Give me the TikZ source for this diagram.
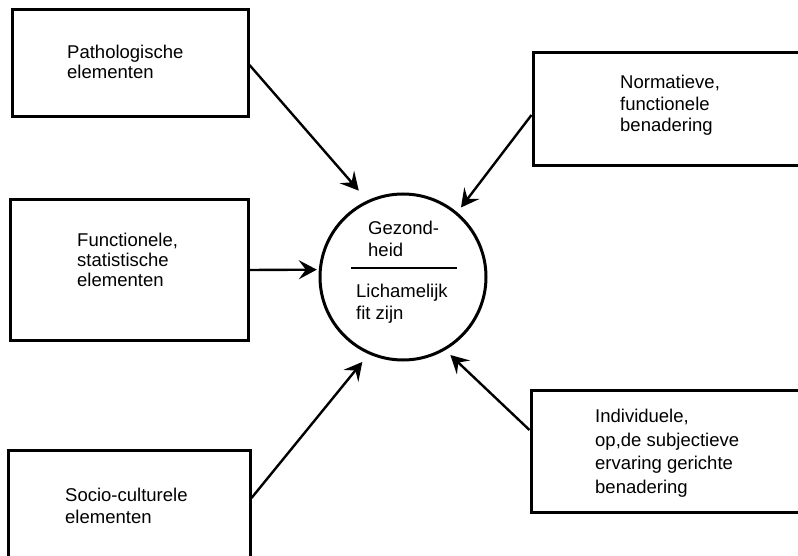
\documentclass[tikz,border=0pt]{standalone}
\usepackage{fontspec}
\setmainfont{Liberation Sans}
\usetikzlibrary{arrows.meta,calc}
\begin{document}
\begin{tikzpicture}[x=1pt,y=-1pt,
  box/.style={draw, line width=3pt, rectangle, inner sep=0pt},
  lbl/.style={anchor=north west, inner sep=0pt, align=left},
  conn/.style={line width=2.4pt, -{Stealth[length=18pt,width=19pt,inset=7pt]}}]
\path[use as bounding box, clip] (0,0) rectangle (798,556);
\fill[white] (0,0) rectangle (798,556);
% boxes
\node[box, minimum width=236, minimum height=107] (b1) at (130,63.5) {};
\node[box, minimum width=279, minimum height=113] (b2) at (672.5,109.5) {};
\node[box, minimum width=238, minimum height=140] (b3) at (129,270) {};
\node[box, minimum width=242, minimum height=120] (b4) at (129,510) {};
\node[box, minimum width=281, minimum height=122] (b5) at (671.5,451) {};
% circle
\node[circle, draw, line width=3pt, minimum size=166, inner sep=0pt] (c) at (403,277) {};
\coordinate (hl) at (351,268);
\coordinate (hr) at (457,268);
\draw[line width=2.6pt] (hl) -- (hr);
% labels
\node[lbl, font=\fontsize{18.5}{20}\selectfont] (t1) at (67,45) {Pathologische\\elementen};
\node[lbl, font=\fontsize{18.5}{21.5}\selectfont] (t2) at (620,75) {Normatieve,\\functionele\\benadering};
\node[lbl, font=\fontsize{18.5}{20}\selectfont] (t3) at (77,233) {Functionele,\\statistische\\elementen};
\node[lbl, font=\fontsize{18.5}{22}\selectfont] (t4) at (65,488) {Socio-culturele\\elementen};
\node[lbl, font=\fontsize{18.5}{23.5}\selectfont] (t5) at (595,409) {Individuele,\\op,de subjectieve\\ervaring gerichte\\benadering};
\node[lbl, font=\fontsize{18.5}{22}\selectfont] (g1) at (368,221) {Gezond-\\heid};
\node[lbl, font=\fontsize{18.5}{22}\selectfont] (g2) at (356,284) {Lichamelijk\\fit zijn};
% connectors
\draw[conn, shorten >=13pt] ($(b1.east)+(0,1.5)$) -- (c.115);
\draw[conn, shorten >=6pt] ($(b2.west)+(0,5.5)$) -- (c.50);
\draw[conn, shorten >=2pt] (b3.east) -- (c.175);
\draw[conn, shorten >=10pt] ($(b4.east)+(0,-12)$) -- (c.246);
\draw[conn, shorten >=7pt] ($(b5.west)+(0,-21)$) -- (c.300);
\end{tikzpicture}
\end{document}
